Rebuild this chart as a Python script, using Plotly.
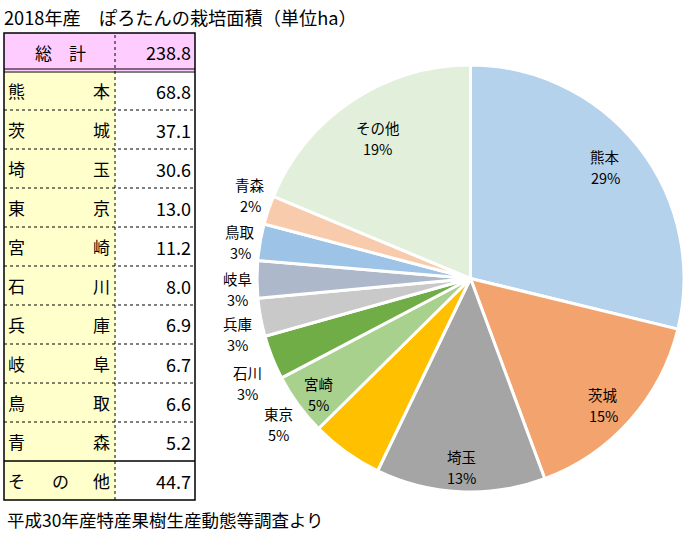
import plotly.graph_objects as go

title = "2018年産　ぽろたんの栽培面積（単位ha）"
source = "平成30年産特産果樹生産動態等調査より"

prefs = ["熊本", "茨城", "埼玉", "東京", "宮崎", "石川", "兵庫", "岐阜", "鳥取", "青森", "その他"]
areas = [68.8, 37.1, 30.6, 13.0, 11.2, 8.0, 6.9, 6.7, 6.6, 5.2, 44.7]
pct_labels = ["29%", "15%", "13%", "5%", "5%", "3%", "3%", "3%", "3%", "2%", "19%"]
total_label = "238.8"
value_labels = ["68.8", "37.1", "30.6", "13.0", "11.2", "8.0", "6.9", "6.7", "6.6", "5.2", "44.7"]

colors = ["#B4D2EC", "#F3A46E", "#A5A5A5", "#FFC000", "#A9D18E", "#70AD47",
          "#C9C9C9", "#ADB9CA", "#9DC3E6", "#F8CBAD", "#E2EFDA"]

# where excel put the data labels (pixel centre of the two-line block)
label_pos = [(605, 167), (603, 405), (461, 467), (278, 424), (318, 394), (247, 383),
             (237, 334), (237, 289), (240, 242), (250, 195), (378, 138)]

W, H = 690, 535
def px(x):
    return x / W
def py(y):
    return 1 - y / H

fig = go.Figure()
fig.add_trace(go.Pie(
    labels=prefs, values=areas, textinfo="none",
    sort=False, direction="clockwise", rotation=0,
    marker=dict(colors=colors, line=dict(color="white", width=3)),
    domain=dict(x=[px(257), px(684)], y=[py(492), py(65)]),
    showlegend=False, hoverinfo="label+value+percent",
))

shapes = []
ann = []
fnt = dict(family="Noto Sans CJK JP", size=17, color="black")
pie_fnt = dict(family="Noto Sans CJK JP", size=14.5, color="black")

def text(x, y, s, anchor, f=fnt):
    ann.append(dict(x=px(x), y=py(y), xref="paper", yref="paper", text=s, showarrow=False,
                    xanchor=anchor, yanchor="middle", font=f))

for p, pc, (lx, ly) in zip(prefs, pct_labels, label_pos):
    text(lx, ly - 10.5, p, "center", pie_fnt)
    text(lx, ly + 10.5, pc, "center", pie_fnt)

# table
left, mid, right = 4, 115, 195
top, head_bot, row_h = 33, 71, 39
n = len(prefs)
bottom = head_bot + n * row_h

def rect(x0, y0, x1, y1, fill):
    shapes.append(dict(type="rect", xref="paper", yref="paper", x0=px(x0), x1=px(x1),
                       y0=py(y1), y1=py(y0), fillcolor=fill, line=dict(width=0), layer="below"))

def hline(y, x0, x1, dash="solid", width=1):
    shapes.append(dict(type="line", xref="paper", yref="paper", x0=px(x0), x1=px(x1),
                       y0=py(y), y1=py(y), line=dict(color="black", width=width, dash=dash)))

rect(left, top, right, head_bot, "#FFCCFF")
rect(left, head_bot, mid, bottom, "#FFFFCC")
rect(mid, head_bot, right, bottom, "white")

for i in range(1, n):
    y = head_bot + i * row_h
    if prefs[i] == "その他":
        hline(y, left, right, width=1.5)
    else:
        hline(y, left, right, dash="dot")
hline(head_bot - 2, left, right)
hline(head_bot + 1, left, right)
shapes.append(dict(type="line", xref="paper", yref="paper", x0=px(mid), x1=px(mid),
                   y0=py(bottom), y1=py(top), line=dict(color="black", width=1, dash="dot")))
shapes.append(dict(type="rect", xref="paper", yref="paper", x0=px(left), x1=px(right),
                   y0=py(bottom), y1=py(top), line=dict(color="black", width=1.5)))

val_fnt = dict(family="Noto Sans CJK JP", size=18, color="black")
text(60, (top + head_bot) / 2, "総　計", "center")
text(193, (top + head_bot) / 2, total_label, "right", val_fnt)
for i, (p, v) in enumerate(zip(prefs, value_labels)):
    yc = head_bot + (i + 0.5) * row_h
    chars = list(p)
    for j, c in enumerate(chars):
        if j == 0:
            text(6, yc, c, "left")
        elif j == len(chars) - 1:
            text(112, yc, c, "right")
        else:
            text(60, yc, c, "center")
    text(193, yc, v, "right", val_fnt)

text(2, 17, title, "left", dict(family="Noto Sans CJK JP", size=18.2, color="black"))
text(5, 519, source, "left", dict(family="Noto Sans CJK JP", size=17.5, color="black"))

fig.update_layout(
    width=W, height=H, margin=dict(l=0, r=0, t=0, b=0),
    paper_bgcolor="white", plot_bgcolor="white",
    shapes=shapes, annotations=ann,
)
fig.write_html("out.html", config={"displayModeBar": False},
               post_script="document.body.style.margin='0';")
